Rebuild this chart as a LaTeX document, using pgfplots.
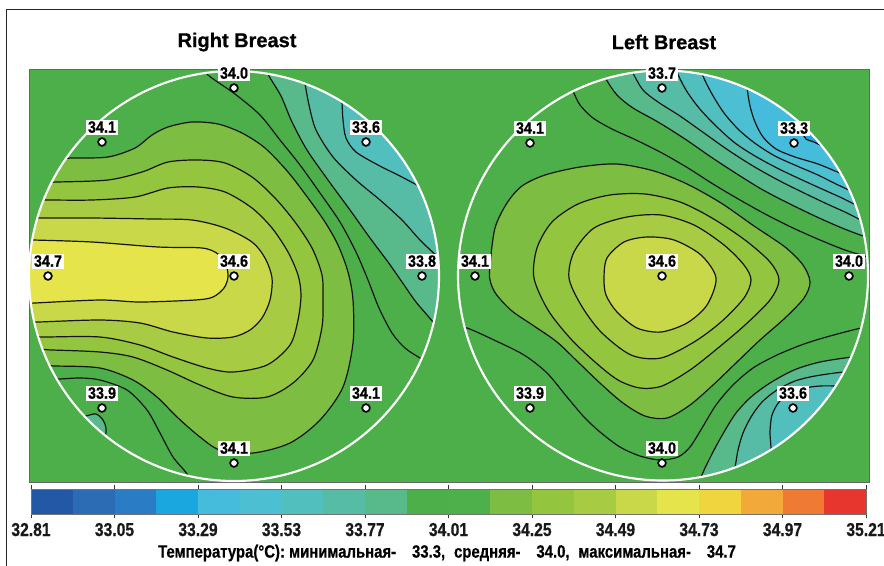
\documentclass[border=0pt]{standalone}
\usepackage{fontspec}
\setmainfont{Liberation Sans}
\newfontfamily\nbA[FakeStretch=0.88, FakeBold=0.6]{Liberation Sans Bold}
\newfontfamily\nbB[FakeStretch=0.84, FakeBold=0.5]{Liberation Sans Bold}
\newfontfamily\ttl[FakeBold=0.8]{Liberation Sans Bold}
\usepackage{pgfplots}
\pgfplotsset{compat=1.18}

\definecolor{bgG}{HTML}{4CAF4A}
\definecolor{c1}{HTML}{2358A6}
\definecolor{c2}{HTML}{2B6CB5}
\definecolor{c3}{HTML}{2A7CC4}
\definecolor{c4}{HTML}{1AA6DF}
\definecolor{c5}{HTML}{45BCDB}
\definecolor{c6}{HTML}{4CC0D2}
\definecolor{c7}{HTML}{52BFBF}
\definecolor{c8}{HTML}{57BCA6}
\definecolor{c9}{HTML}{58B98A}
\definecolor{c10}{HTML}{4CAF4A}
\definecolor{c11}{HTML}{4DB04A}
\definecolor{c12}{HTML}{7DBD41}
\definecolor{c13}{HTML}{93C53E}
\definecolor{c14}{HTML}{A8CB44}
\definecolor{c15}{HTML}{C9D848}
\definecolor{c16}{HTML}{E6E44B}
\definecolor{c17}{HTML}{F0D53F}
\definecolor{c18}{HTML}{F2A93A}
\definecolor{c19}{HTML}{EE7A34}
\definecolor{c20}{HTML}{E6362E}

\newcommand{\lblfont}{\nbA\fontsize{12.3}{13}\selectfont}
\newcommand{\tickfont}{\nbB\fontsize{14}{16}\selectfont}
\newcommand{\botfont}{\nbB\fontsize{13.3}{15}\selectfont}
\newcommand{\titfont}{\ttl\fontsize{15}{18}\selectfont}

\pgfplotsset{
  ctr/.style={smooth, draw=black!92, line width=0.9pt},
  cline/.style={smooth, draw=black!92, line width=0.9pt, fill=none},
}

\begin{document}
\begin{tikzpicture}
\begin{axis}[
  name=main, at={(0,0)}, anchor=south west,
  width=663pt, height=423.75pt, scale only axis,
  xmin=0, xmax=884, ymin=0, ymax=565, y dir=reverse,
  hide axis, clip=false,
]
% outer frame
\addplot[draw=black!85, line width=1.4pt] coordinates {(6.5,566) (6.5,9.5) (885,9.5)};
% green field
\addplot[fill=bgG, draw=black!60, line width=0.6pt] coordinates {(29,69) (869,69) (869,482) (29,482) (29,69)};

% ================= Right breast =================
\begin{scope}
\clip (axis cs:234,276) circle [radius=205];
\addplot[ctr, fill=c12] coordinates {(-20,140) (50,158) (72,158) (108,157) (135,148) (152,135) (168,127) (192,122) (218,124) (242,133) (265,148) (288,172) (308,198) (325,222) (338,245) (348,272) (353,300) (353,343) (343,387) (320,420) (290,443) (253,453) (220,450) (200,437) (177,417) (157,397) (133,380) (100,368) (55,366) (30,366) (-20,390)};
\addplot[ctr, fill=c13] coordinates {(-20,175) (40,182) (57,182) (108,180) (142,172) (168,162) (198,160) (225,163) (252,177) (275,198) (295,222) (312,248) (322,275) (323,300) (322,327) (313,360) (293,383) (267,397) (233,397) (200,385) (167,370) (133,357) (100,352) (52,350) (35,350) (-20,360)};
\addplot[ctr, fill=c14] coordinates {(-20,195) (30,200) (48,200) (92,200) (135,197) (168,188) (198,187) (225,192) (252,208) (272,228) (288,252) (298,275) (301,295) (298,320) (290,345) (267,365) (233,372) (207,368) (173,357) (140,345) (100,337) (45,337) (28,337) (-20,345)};
\addplot[ctr, fill=c15] coordinates {(-20,215) (25,218) (40,218) (92,218) (152,219) (192,220) (225,228) (252,242) (265,258) (272,278) (270,300) (262,318) (250,330) (233,337) (207,338) (173,332) (140,323) (100,320) (38,322) (22,322) (-20,330)};
\addplot[ctr, fill=c16] coordinates {(-20,235) (20,240) (33,240) (92,242) (158,247) (202,248) (218,254) (226,265) (228,277) (224,288) (213,297) (195,300) (140,302) (100,300) (35,303) (20,304) (-20,310)};
\addplot[ctr, fill=c9] coordinates {(262,55) (268,74) (281,96) (292,122) (307,150) (328,180) (350,210) (370,238) (388,262) (402,282) (416,302) (433,322) (450,345) (470,340) (470,40)};
\addplot[ctr, fill=c8] coordinates {(300,62) (305,84) (309,105) (316,130) (333,157) (356,180) (380,200) (402,220) (420,240) (437,256) (455,270) (470,260) (470,40)};
\addplot[ctr, fill=c7] coordinates {(341,85) (342,102) (343,120) (346,138) (356,152) (378,165) (400,176) (419,186) (440,196) (470,190) (470,40)};
\addplot[ctr, fill=c9] coordinates {(72,420) (86,416) (96,414) (103,420) (106,428) (105,438) (100,450) (75,440)};
\addplot[cline] coordinates {(200,55) (206,73) (235,94) (260,115) (280,140) (300,165) (320,193) (340,222) (356,252) (368,280) (379,308) (392,333) (405,348) (420,358) (440,370)};
\addplot[cline] coordinates {(38,378) (58,379) (80,378) (100,380) (127,390) (147,410) (160,433) (173,457) (187,474) (193,490)};
\end{scope}
\draw[white, line width=1.6pt] (axis cs:234,276) circle [radius=205];

% ================= Left breast =================
\begin{scope}
\clip (axis cs:663,275.5) circle [radius=205];
\addplot[ctr, fill=c9] coordinates {(598,62) (606,79) (617,95) (633,108) (658,122) (685,139) (711,157) (737,174) (763,190) (790,204) (817,217) (842,228) (866,237) (885,242) (900,240) (900,40)};
\addplot[ctr, fill=c8] coordinates {(625,55) (633,73) (643,90) (658,102) (680,116) (704,133) (728,150) (753,166) (778,180) (802,192) (825,203) (847,213) (863,221) (885,230) (900,225) (900,40)};
\addplot[ctr, fill=c7] coordinates {(672,55) (677,72) (686,90) (699,108) (716,126) (735,143) (755,156) (777,168) (800,179) (822,189) (842,198) (858,206) (880,216) (900,210) (900,40)};
\addplot[ctr, fill=c6] coordinates {(698,58) (703,76) (712,94) (724,113) (739,130) (756,144) (775,156) (797,166) (818,175) (836,184) (851,191) (870,200) (900,195) (900,40)};
\addplot[ctr, fill=c5] coordinates {(744,70) (747,88) (750,106) (755,122) (763,137) (776,149) (795,157) (818,164) (840,173) (860,180) (900,180) (900,40)};
\addplot[ctr, fill=c4] coordinates {(830,112) (815,127) (804,133) (806,139) (814,142) (824,146) (845,145)};
\addplot[ctr, fill=c9] coordinates {(695,495) (701,477) (705,468) (714,450) (724,432) (736,413) (751,397) (770,383) (794,370) (820,362) (852,357) (875,355) (900,370) (900,500)};
\addplot[ctr, fill=c8] coordinates {(730,485) (735,467) (738,450) (743,433) (751,417) (762,402) (777,390) (795,381) (815,376) (844,372) (865,372) (900,390) (900,500)};
\addplot[ctr, fill=c7] coordinates {(770,465) (771,449) (770,432) (772,415) (779,402) (790,393) (805,388) (820,386) (836,386) (855,387) (900,400) (900,500)};
\addplot[cline] coordinates {(450,325) (467,328) (494,340) (524,355) (547,373) (567,397) (584,417) (600,432) (620,447) (640,456) (660,460) (678,457) (690,447) (702,428) (716,405) (733,385) (753,368) (777,355) (804,344) (830,336) (861,328) (880,325)};
\addplot[cline] coordinates {(566,75) (573,91) (580,105) (593,118) (612,129) (636,140) (662,153) (688,168) (713,184) (740,200) (767,215) (793,228) (820,240) (845,250) (868,257) (885,262)};
\addplot[ctr, smooth cycle, fill=c12] coordinates {(490,265) (495,228) (507,203) (522,186) (545,175) (580,167) (617,164) (654,171) (687,184) (721,203) (754,226) (785,247) (803,265) (810,282) (804,298) (785,318) (760,340) (737,362) (713,385) (690,405) (667,418) (645,416) (623,403) (601,384) (578,362) (557,342) (534,326) (512,311) (496,294) (490,280)};
\addplot[ctr, smooth cycle, fill=c13] coordinates {(534,278) (537,248) (552,222) (578,204) (610,195) (645,194) (680,202) (712,218) (745,240) (770,262) (779,280) (770,300) (745,325) (718,348) (690,370) (662,386) (640,388) (618,380) (595,362) (570,338) (548,310)};
\addplot[ctr, smooth cycle, fill=c14] coordinates {(569,278) (574,252) (594,228) (627,217) (661,215) (694,225) (724,245) (744,265) (751,280) (744,298) (721,322) (694,342) (661,358) (631,355) (601,332) (581,305)};
\addplot[ctr, smooth cycle, fill=c15] coordinates {(604,278) (607,258) (624,242) (647,237) (674,240) (701,255) (716,278) (707,305) (687,323) (661,332) (637,328) (617,312) (606,295)};
\end{scope}
\draw[white, line width=1.6pt] (axis cs:663,275.5) circle [radius=205];

% ================= measurement points =================
\addplot[only marks, mark=*, mark size=2.9pt,
  mark options={fill=white, draw=black, line width=1.25pt},
  nodes near coords, point meta=explicit symbolic,
  every node near coord/.style={font=\lblfont, text=black, fill=white, inner sep=1.3pt, anchor=center, yshift=11.2pt}]
  table[meta=lab] {
x y lab
234 88 34.0
102 142 34.1
366 142 33.6
48 276 34.7
234 276 34.6
422 276 33.8
102 408 33.9
366 408 34.1
234 463 34.1
662 88 33.7
530 143 34.1
794 143 33.3
475 276 34.1
662 276 34.6
849 276 34.0
530 408 33.9
793 408 33.6
662 463 34.0
};

% titles and caption
\node[font=\titfont] at (axis cs:237,42) {Right Breast};
\node[font=\titfont] at (axis cs:664,42) {Left Breast};
\node[font=\botfont] at (axis cs:447,553) {Температура(°C): минимальная-\hspace{0.9em}33.3,\hspace{0.5em}средняя-\hspace{0.9em}34.0,\hspace{0.5em}максимальная-\hspace{0.9em}34.7};
\end{axis}

% ================= colour bar =================
\begin{axis}[
  at={(main.south west)}, anchor=south west, xshift=23.25pt, yshift=38.25pt,
  width=626.25pt, height=18.75pt, scale only axis,
  xmin=32.81, xmax=35.21, ymin=0, ymax=1,
  xtick={32.81,33.05,33.29,33.53,33.77,34.01,34.25,34.49,34.73,34.97,35.21},
  xticklabels={32.81,33.05,33.29,33.53,33.77,34.01,34.25,34.49,34.73,34.97,35.21},
  ytick=\empty,
  xtick pos=both, xticklabel pos=lower, tick align=outside, major tick length=3.2pt,
  tick style={black!80, line width=0.7pt},
  xticklabel style={font=\tickfont, text=black!90},
  axis line style={black!55, line width=0.4pt},
  axis on top,
]
\addplot[fill=c1, draw=none] coordinates {(32.81,0) (32.93,0) (32.93,1) (32.81,1)};
\addplot[fill=c2, draw=none] coordinates {(32.93,0) (33.05,0) (33.05,1) (32.93,1)};
\addplot[fill=c3, draw=none] coordinates {(33.05,0) (33.17,0) (33.17,1) (33.05,1)};
\addplot[fill=c4, draw=none] coordinates {(33.17,0) (33.29,0) (33.29,1) (33.17,1)};
\addplot[fill=c5, draw=none] coordinates {(33.29,0) (33.41,0) (33.41,1) (33.29,1)};
\addplot[fill=c6, draw=none] coordinates {(33.41,0) (33.53,0) (33.53,1) (33.41,1)};
\addplot[fill=c7, draw=none] coordinates {(33.53,0) (33.65,0) (33.65,1) (33.53,1)};
\addplot[fill=c8, draw=none] coordinates {(33.65,0) (33.77,0) (33.77,1) (33.65,1)};
\addplot[fill=c9, draw=none] coordinates {(33.77,0) (33.89,0) (33.89,1) (33.77,1)};
\addplot[fill=c10, draw=none] coordinates {(33.89,0) (34.01,0) (34.01,1) (33.89,1)};
\addplot[fill=c11, draw=none] coordinates {(34.01,0) (34.13,0) (34.13,1) (34.01,1)};
\addplot[fill=c12, draw=none] coordinates {(34.13,0) (34.25,0) (34.25,1) (34.13,1)};
\addplot[fill=c13, draw=none] coordinates {(34.25,0) (34.37,0) (34.37,1) (34.25,1)};
\addplot[fill=c14, draw=none] coordinates {(34.37,0) (34.49,0) (34.49,1) (34.37,1)};
\addplot[fill=c15, draw=none] coordinates {(34.49,0) (34.61,0) (34.61,1) (34.49,1)};
\addplot[fill=c16, draw=none] coordinates {(34.61,0) (34.73,0) (34.73,1) (34.61,1)};
\addplot[fill=c17, draw=none] coordinates {(34.73,0) (34.85,0) (34.85,1) (34.73,1)};
\addplot[fill=c18, draw=none] coordinates {(34.85,0) (34.97,0) (34.97,1) (34.85,1)};
\addplot[fill=c19, draw=none] coordinates {(34.97,0) (35.09,0) (35.09,1) (34.97,1)};
\addplot[fill=c20, draw=none] coordinates {(35.09,0) (35.21,0) (35.21,1) (35.09,1)};
\end{axis}
\pgfresetboundingbox
\path[use as bounding box] (main.south west) rectangle (main.north east);
\end{tikzpicture}
\end{document}
